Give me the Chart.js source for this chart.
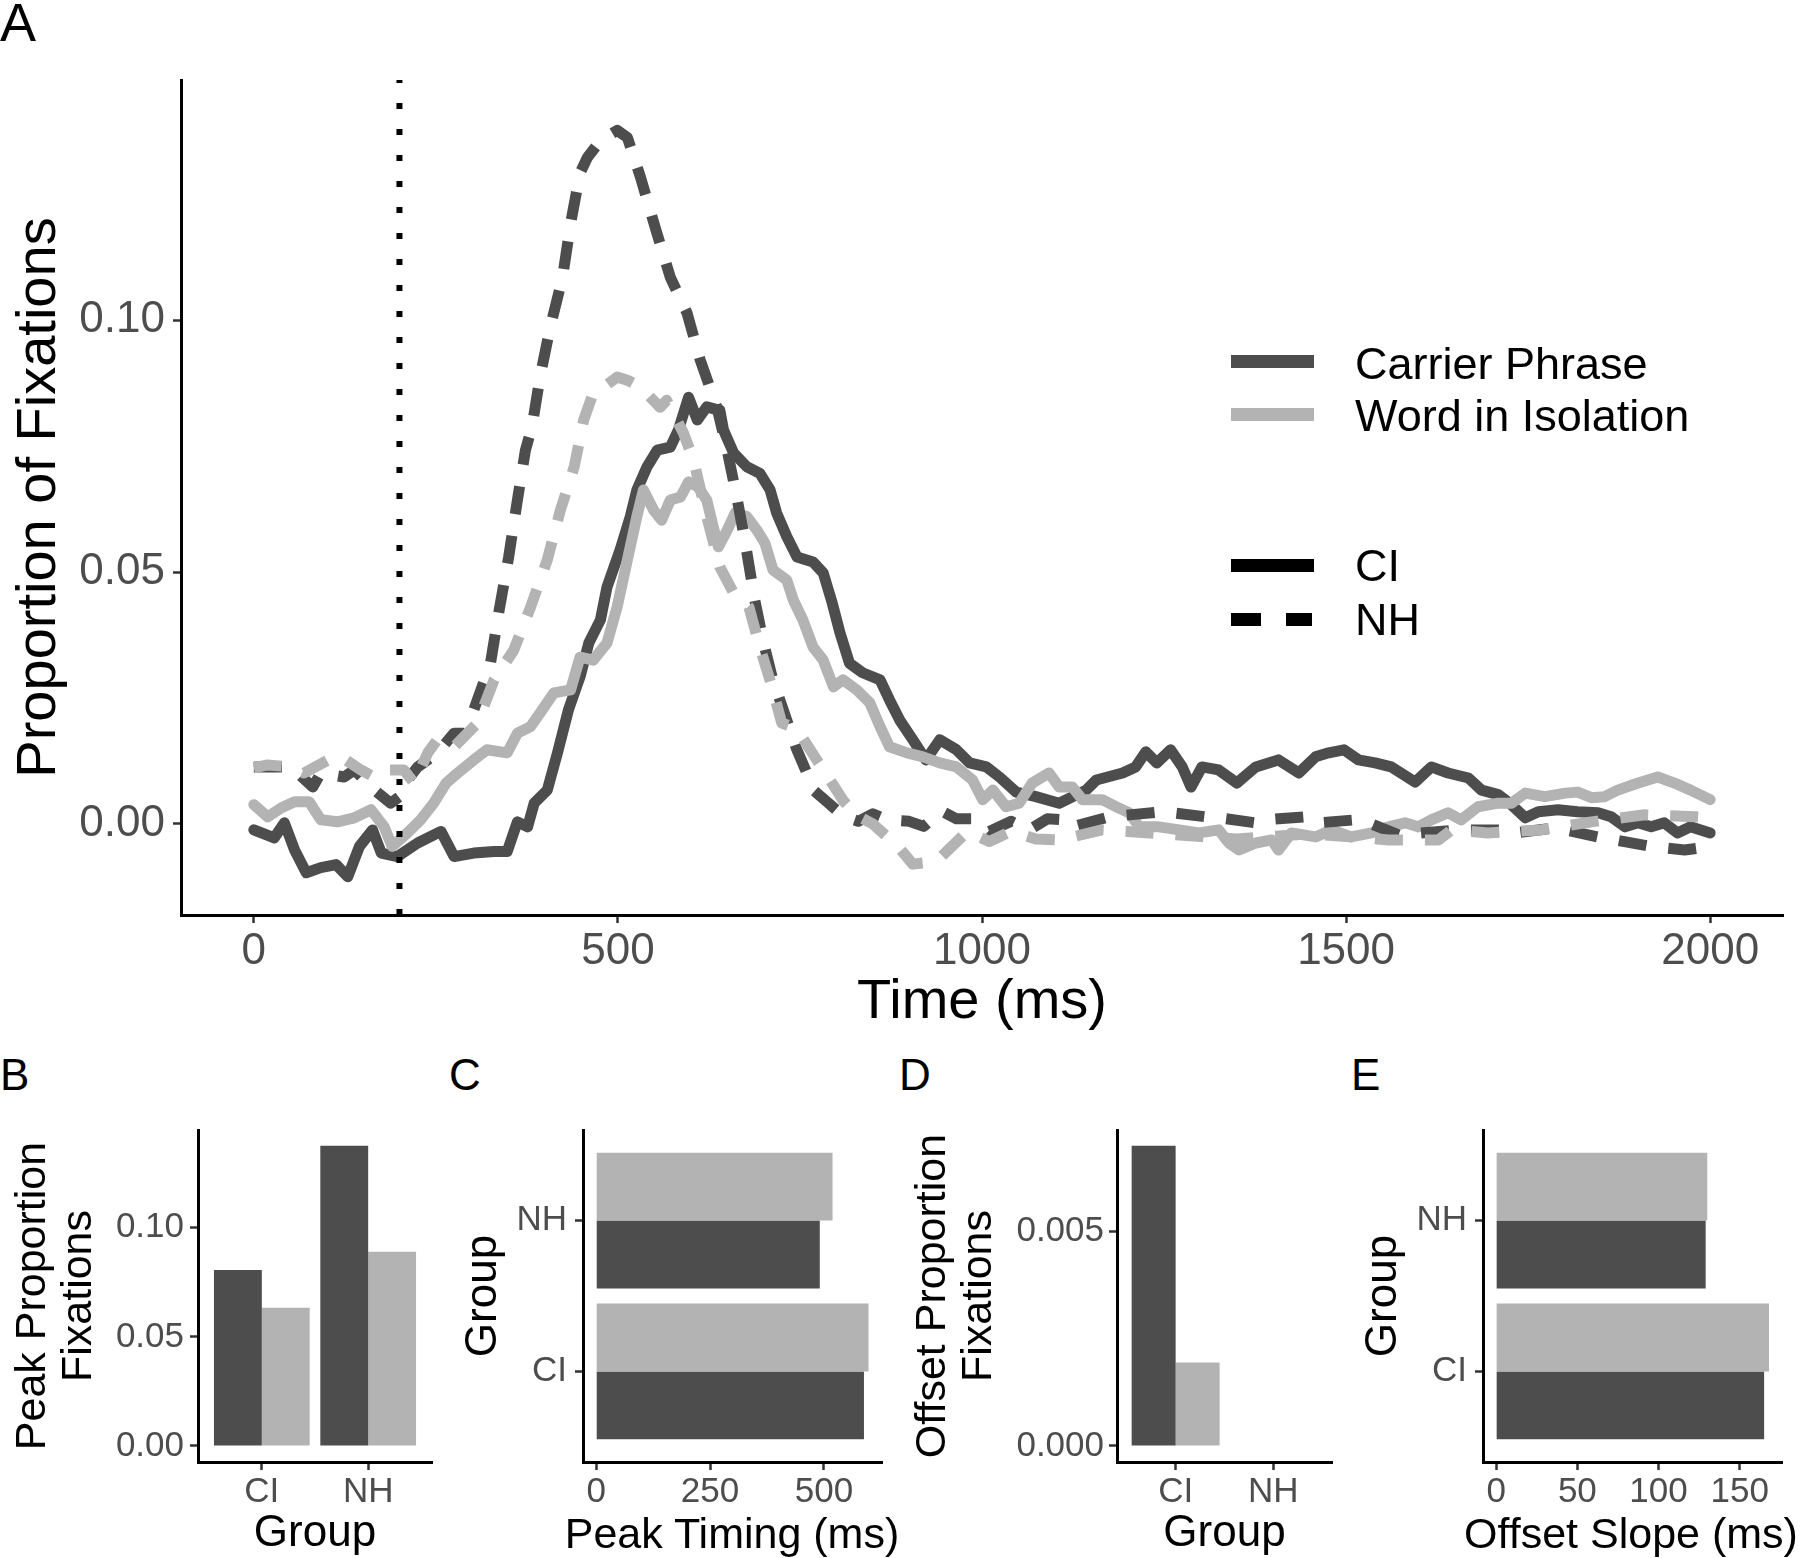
<!DOCTYPE html>
<html>
<head>
<meta charset="utf-8">
<script src="https://cdn.jsdelivr.net/npm/chart.js@4.4.1/dist/chart.umd.min.js"></script>
<style>
  body { margin: 0; background: #fff; }
  #page { position: relative; width: 1800px; height: 1558px; overflow: hidden; font-family: "Liberation Sans", Arial, sans-serif; }
  .box { position: absolute; }
  .tag { position: absolute; color: #000; white-space: nowrap; }
  .swatch { position: absolute; height: 13px; }
  .keytext { position: absolute; font-size: 45px; line-height: 45px; color: #000; white-space: nowrap; }
  .axtitle { position: absolute; width: 600px; text-align: center; font-size: 43px; line-height: 43px; color: #000; white-space: nowrap; }
</style>
</head>
<body>
<div id="page">
  <div class="box" style="left:0;top:0;width:1800px;height:1040px"><canvas id="panelA" width="1800" height="1040"></canvas></div>
  <div class="box" style="left:0;top:1100px;width:450px;height:458px"><canvas id="panelB" width="450" height="458"></canvas></div>
  <div class="box" style="left:450px;top:1100px;width:450px;height:458px"><canvas id="panelC" width="450" height="458"></canvas></div>
  <div class="box" style="left:900px;top:1100px;width:450px;height:458px"><canvas id="panelD" width="450" height="458"></canvas></div>
  <div class="box" style="left:1350px;top:1100px;width:450px;height:458px"><canvas id="panelE" width="450" height="458"></canvas></div>

  <div class="tag" style="left:0;top:-5px;font-size:54px;line-height:54px">A</div>
  <div class="tag" style="left:0;top:1053px;font-size:44px;line-height:44px">B</div>
  <div class="tag" style="left:449px;top:1053px;font-size:44px;line-height:44px">C</div>
  <div class="tag" style="left:899px;top:1053px;font-size:44px;line-height:44px">D</div>
  <div class="tag" style="left:1351px;top:1053px;font-size:44px;line-height:44px">E</div>

  <!-- x titles of C and E are wider than their axes, so they sit outside the canvas -->
  <div class="axtitle" style="left:432px;top:1512px">Peak Timing (ms)</div>
  <div class="axtitle" style="left:1331px;top:1512px">Offset Slope (ms)</div>

  <!-- legend -->
  <div class="swatch" style="left:1231px;top:355px;width:83px;background:#4D4D4D"></div>
  <div class="keytext" style="left:1355px;top:341px">Carrier Phrase</div>
  <div class="swatch" style="left:1231px;top:408px;width:83px;background:#B3B3B3"></div>
  <div class="keytext" style="left:1355px;top:393px">Word in Isolation</div>
  <div class="swatch" style="left:1231px;top:559px;width:83px;background:#000"></div>
  <div class="keytext" style="left:1355px;top:543px">CI</div>
  <div class="swatch" style="left:1231px;top:613px;width:30px;background:#000"></div>
  <div class="swatch" style="left:1286px;top:613px;width:26px;background:#000"></div>
  <div class="keytext" style="left:1355px;top:597px">NH</div>
</div>

<script>
// ---- panel A: proportion of fixations over time ----
const cpCiTime = [0, 28, 42, 56, 72, 92, 113, 129, 145, 163, 175, 197, 225, 257, 275, 302, 330, 348, 362, 376,
  385, 403, 417, 432, 448, 460, 476, 485, 503, 517, 526, 540, 554, 572, 583, 597, 609, 622, 640, 645,
  659, 677, 695, 709, 718, 732, 746, 768, 782, 794, 805, 818, 836, 860, 873, 887, 905, 923, 942, 965,
  983, 1006, 1024, 1047, 1074, 1106, 1143, 1157, 1193, 1211, 1225, 1240, 1259, 1275, 1287, 1302, 1325, 1350, 1376, 1407,
  1435, 1458, 1476, 1497, 1517, 1540, 1562, 1595, 1617, 1640, 1668, 1686, 1709, 1727, 1746, 1764, 1791, 1818, 1846, 1864,
  1883, 1901, 1919, 1937, 1955, 1973, 2000];
const cpCiProp = [-0.0012, -0.0028, 0.0002, -0.0052, -0.0097, -0.0087, -0.0081, -0.0105, -0.0045, -0.0012,
  -0.0058, -0.0065, -0.0038, -0.0015, -0.0065, -0.0058, -0.0055, -0.0055, 0.0004, -0.0006,
  0.0041, 0.0067, 0.0141, 0.0226, 0.0292, 0.0359, 0.0405, 0.047, 0.0544, 0.061,
  0.0663, 0.0709, 0.0742, 0.0748, 0.0782, 0.0847, 0.0802, 0.0828, 0.0821, 0.0782,
  0.0736, 0.0709, 0.0696, 0.0663, 0.0617, 0.057, 0.053, 0.052, 0.0498, 0.044,
  0.0379, 0.0319, 0.03, 0.0286, 0.0246, 0.0206, 0.0167, 0.0127, 0.0167, 0.0147,
  0.0121, 0.0113, 0.0093, 0.0063, 0.0054, 0.0041, 0.0067, 0.0087, 0.0101, 0.0113,
  0.0143, 0.0121, 0.0147, 0.0113, 0.0073, 0.0113, 0.0107, 0.0081, 0.0113, 0.0127,
  0.0101, 0.0133, 0.0141, 0.0147, 0.0127, 0.0121, 0.0113, 0.0083, 0.0113, 0.0101,
  0.0091, 0.0067, 0.0058, 0.0038, 0.0012, 0.0024, 0.0028, 0.0024, 0.0022, 0.0014,
  -0.0006, 0.0002, -0.0006, 0.0002, -0.0018, -0.0006, -0.0018];

const wiCiTime = [0, 19, 38, 56, 76, 92, 115, 138, 161, 179, 190, 211, 229, 247, 264, 280, 302, 320, 348, 362,
  380, 393, 412, 435, 448, 466, 485, 499, 513, 526, 535, 549, 560, 572, 586, 597, 610, 622, 631, 638,
  650, 661, 677, 691, 702, 713, 732, 741, 754, 768, 782, 796, 809, 828, 846, 860, 873, 897, 919, 942,
  965, 987, 1001, 1015, 1033, 1051, 1069, 1092, 1106, 1124, 1138, 1165, 1184, 1202, 1216, 1243, 1271, 1298, 1325, 1339,
  1353, 1376, 1398, 1407, 1425, 1458, 1480, 1507, 1535, 1558, 1581, 1599, 1617, 1640, 1658, 1681, 1709, 1727, 1746, 1773,
  1801, 1818, 1837, 1855, 1873, 1901, 1928, 1951, 1973, 2000];
const wiCiProp = [0.0038, 0.0014, 0.0032, 0.0044, 0.0044, 0.0008, 0.0004, 0.0012, 0.0028, -0.0006,
  -0.0045, -0.0018, 0.0008, 0.0041, 0.0081, 0.0101, 0.0127, 0.0147, 0.0141, 0.018,
  0.0193, 0.022, 0.026, 0.0266, 0.0331, 0.0325, 0.0359, 0.0431, 0.0524, 0.061,
  0.0663, 0.0623, 0.0603, 0.0643, 0.0649, 0.0679, 0.0669, 0.0643, 0.0589, 0.055,
  0.0583, 0.0617, 0.061, 0.0583, 0.0557, 0.0504, 0.0484, 0.0444, 0.0405, 0.0351,
  0.0325, 0.0272, 0.0286, 0.0266, 0.024, 0.0193, 0.0153, 0.0141, 0.0133, 0.0121,
  0.0113, 0.0087, 0.0048, 0.0067, 0.0034, 0.0041, 0.0081, 0.0101, 0.0073, 0.0073,
  0.0048, 0.0048, 0.0034, 0.0022, -0.0006, -0.0006, -0.0012, -0.0018, -0.0012, -0.0038,
  -0.0052, -0.0038, -0.0032, -0.0052, -0.0018, -0.0026, -0.0012, -0.0026, -0.0018, -0.0006,
  0.0002, -0.0006, 0.0008, 0.0022, 0.0008, 0.0034, 0.0041, 0.0041, 0.0061, 0.0054,
  0.0061, 0.0063, 0.0052, 0.0054, 0.0067, 0.0081, 0.0093, 0.0081, 0.0067, 0.0048];

const cpNhTime = [0, 28, 47, 60, 81, 92, 124, 138, 166, 188, 200, 211, 225, 252, 275, 289, 302, 325, 337, 350,
  362, 373, 382, 393, 407, 424, 435, 448, 458, 476, 499, 513, 531, 551, 572, 595, 613, 636, 650, 664,
  675, 688, 700, 712, 725, 745, 770, 790, 810, 830, 850, 870, 900, 920, 945, 965, 990, 1010, 1040, 1065,
  1090, 1115, 1124, 1175, 1247, 1261, 1307, 1325, 1376, 1390, 1444, 1462, 1513, 1531, 1572, 1654, 1719, 1732, 1787, 1846,
  1919, 1965, 2000];
const cpNhProp = [0.0113, 0.0113, 0.0113, 0.0101, 0.0073, 0.0101, 0.0093, 0.0107, 0.0067, 0.0041,
  0.0054, 0.0087, 0.0113, 0.0141, 0.018, 0.018, 0.0226, 0.0319, 0.0425, 0.053,
  0.0643, 0.0742, 0.0788, 0.0887, 0.0986, 0.1085, 0.1192, 0.1292, 0.1323, 0.1357,
  0.1377, 0.1363, 0.1284, 0.1185, 0.1085, 0.1014, 0.0921, 0.0827, 0.0742, 0.0643,
  0.0557, 0.0444, 0.036, 0.029, 0.0235, 0.015, 0.0065, 0.004, 0.0015, 0.0005,
  0.002, 0.0008, 0.0005, -0.0005, 0.0025, 0.001, 0.001, -0.0015, 0.0005, -0.0012,
  0.001, 0.0008, -0.0006, 0.0014, 0.0024, 0.0022, 0.0014, 0.0012, 0.0002, 0.0008,
  0.0014, 0.0002, 0.0008, 0.0002, -0.0022, -0.0012, -0.0012, -0.0018, -0.0008, -0.0026,
  -0.0045, -0.0052, -0.0045];

const wiNhTime = [0, 19, 51, 69, 110, 120, 147, 165, 179, 206, 220, 239, 252, 275, 307, 330, 357, 380, 403, 421,
  440, 453, 466, 480, 499, 513, 531, 558, 567, 590, 604, 622, 640, 659, 680, 695, 710, 725, 745, 773,
  790, 810, 830, 850, 873, 885, 905, 937, 955, 980, 1010, 1040, 1074, 1106, 1124, 1165, 1200, 1250, 1300, 1350,
  1400, 1450, 1500, 1558, 1627, 1645, 1695, 1768, 1837, 1910, 1979, 2000];
const wiNhProp = [0.0111, 0.0117, 0.0113, 0.0101, 0.0133, 0.0133, 0.0107, 0.0093, 0.0107, 0.0107,
  0.0081, 0.0141, 0.0167, 0.0153, 0.02, 0.0286, 0.0345, 0.043, 0.0524, 0.0623,
  0.0709, 0.0802, 0.0855, 0.0867, 0.0887, 0.0881, 0.0867, 0.0827, 0.0841, 0.0776,
  0.0722, 0.061, 0.051, 0.0458, 0.043, 0.035, 0.028, 0.02, 0.019, 0.0127,
  0.009, 0.0045, 0.0015, 0.0, -0.003, -0.0045, -0.008, -0.0075, -0.005, -0.0015,
  -0.0035, -0.0015, -0.003, -0.0032, -0.0026, -0.0012, -0.0015, -0.002, -0.0025, -0.003,
  -0.0025, -0.002, -0.0025, -0.0032, -0.0032, -0.0012, -0.0018, -0.0012, 0.0004, 0.0018,
  0.0014, 0.0012];

const timeTicks = [0, 500, 1000, 1500, 2000];
const propTicks = [0, 0.05, 0.10];
const onsetTime = 200;

// ---- panels B-E: summary bars per group ----
const groups = ['CI', 'NH'];
const peakPropCarrier = [0.0806, 0.1376];
const peakPropWord = [0.0633, 0.0890];
const peakPropTicks = [0, 0.05, 0.10];
const peakTimeCarrier = [588, 491];
const peakTimeWord = [598, 519];
const peakTimeTicks = [0, 250, 500];
const offsetPropCarrier = [0.00701, null];
const offsetPropWord = [0.00195, null];
const offsetPropTicks = [0, 0.005];
const offsetSlopeCarrier = [165, 129];
const offsetSlopeWord = [168, 130];
const offsetSlopeTicks = [0, 50, 100, 150];

const DARK = '#4D4D4D';
const LIGHT = '#B3B3B3';
const FONT = '"Liberation Sans", Arial, Helvetica, sans-serif';
Chart.defaults.font.family = FONT;
Chart.defaults.color = '#4D4D4D';

function toPoints(times, values) {
  return times.map((t, i) => ({ x: t, y: values[i] }));
}

function setTicks(values) {
  return (scale) => { scale.ticks = values.map(v => ({ value: v })); };
}

// shared look of a ggplot classic axis
function axis(opts) {
  return {
    type: 'linear',
    position: opts.position,
    min: opts.min,
    max: opts.max,
    offset: false,
    border: { display: true, color: '#000', width: 3 },
    grid: { display: true, drawOnChartArea: false, drawTicks: true, tickLength: 8, tickWidth: 2.5, tickColor: '#333333', offset: false },
    ticks: {
      color: '#4D4D4D',
      font: { size: opts.tickSize, lineHeight: 1.2 },
      padding: opts.tickPad,
      autoSkip: false, maxRotation: 0, minRotation: 0,
      callback: opts.format
    },
    title: {
      display: opts.title !== null, text: opts.title, color: '#000',
      font: { size: opts.titleSize, lineHeight: opts.titleLine || 1.2 },
      padding: opts.titlePad
    },
    afterBuildTicks: setTicks(opts.ticks),
    afterFit: (scale) => {
      if (opts.position === 'left') scale.width = opts.size; else scale.height = opts.size;
    }
  };
}

const baseOpts = {
  responsive: false,
  animation: false,
  devicePixelRatio: 1,
  plugins: { legend: { display: false }, tooltip: { enabled: false } }
};

// panel A
const lineW = 11;
new Chart(document.getElementById('panelA'), {
  type: 'line',
  data: {
    datasets: [
      { label: 'onset', data: [{ x: onsetTime, y: -0.0181 }, { x: onsetTime, y: 0.1477 }], borderColor: '#000', borderWidth: 6, borderDash: [6, 20], borderCapStyle: 'butt', pointRadius: 0, order: 0 },
      { label: 'Word in Isolation NH', data: toPoints(wiNhTime, wiNhProp), borderColor: LIGHT, borderWidth: lineW, borderDash: [28, 22], borderCapStyle: 'butt', borderJoinStyle: 'round', pointRadius: 0, order: 1 },
      { label: 'Carrier Phrase NH', data: toPoints(cpNhTime, cpNhProp), borderColor: DARK, borderWidth: lineW, borderDash: [28, 22], borderCapStyle: 'butt', borderJoinStyle: 'round', pointRadius: 0, order: 2 },
      { label: 'Word in Isolation CI', data: toPoints(wiCiTime, wiCiProp), borderColor: LIGHT, borderWidth: lineW, borderCapStyle: 'round', borderJoinStyle: 'round', pointRadius: 0, order: 3 },
      { label: 'Carrier Phrase CI', data: toPoints(cpCiTime, cpCiProp), borderColor: DARK, borderWidth: lineW, borderCapStyle: 'round', borderJoinStyle: 'round', pointRadius: 0, order: 4 }
    ]
  },
  options: Object.assign({}, baseOpts, {
    layout: { padding: { left: 0, top: 80, right: 17, bottom: 0 } },
    scales: {
      x: axis({ position: 'bottom', min: -100, max: 2100, ticks: timeTicks, size: 125, tickSize: 44, tickPad: 2,
        format: v => String(v), title: 'Time (ms)', titleSize: 56, titlePad: { top: 0, bottom: 4 } }),
      y: axis({ position: 'left', min: -0.0181, max: 0.1477, ticks: propTicks, size: 181, tickSize: 44, tickPad: 8,
        format: v => v.toFixed(2), title: 'Proportion of Fixations', titleSize: 56, titlePad: { top: 6, bottom: 0 } })
    }
  })
});

// grouped bars on a numeric group axis (1 = CI, 2 = NH), like ggplot's dodge
function groupBars(carrier, word) {
  return [
    { label: 'Carrier Phrase', values: carrier, color: DARK },
    { label: 'Word in Isolation', values: word, color: LIGHT }
  ];
}

function barPanel(id, cfg) {
  const horizontal = cfg.horizontal;
  let sets = groupBars(cfg.carrier, cfg.word);
  if (horizontal) sets = sets.slice().reverse(); // light bar sits above dark bar
  const datasets = sets.map(s => ({
    label: s.label,
    data: s.values.map((v, i) => horizontal ? { y: i + 1, x: v } : { x: i + 1, y: v }),
    backgroundColor: s.color,
    borderWidth: 0,
    categoryPercentage: 0.9,
    barPercentage: 1
  }));
  const groupAxis = axis({ position: horizontal ? 'left' : 'bottom', min: 0.4, max: 2.6, ticks: [1, 2],
    size: horizontal ? cfg.leftSize : 96, tickSize: 35, tickPad: horizontal ? 8 : 1,
    format: v => groups[v - 1], title: 'Group', titleSize: 44,
    titlePad: horizontal ? { top: 7, bottom: 0 } : { top: 0, bottom: -2 } });
  const valueAxis = axis({ position: horizontal ? 'bottom' : 'left', min: cfg.min, max: cfg.max, ticks: cfg.ticks,
    size: horizontal ? 96 : cfg.leftSize, tickSize: 35, tickPad: horizontal ? 1 : cfg.valuePad,
    format: cfg.format, title: horizontal ? null : cfg.title, titleSize: 43, titleLine: 1.07,
    titlePad: { top: 10, bottom: 0 } });
  new Chart(document.getElementById(id), {
    type: 'bar',
    data: { datasets },
    options: Object.assign({}, baseOpts, {
      indexAxis: horizontal ? 'y' : 'x',
      layout: { padding: { left: 0, top: 30, right: 18, bottom: 0 } },
      scales: horizontal ? { x: valueAxis, y: groupAxis } : { x: groupAxis, y: valueAxis }
    })
  });
}

barPanel('panelB', { carrier: peakPropCarrier, word: peakPropWord, min: -0.00734, max: 0.1448, ticks: peakPropTicks,
  format: v => v.toFixed(2), title: ['Peak Proportion', 'Fixations'], leftSize: 198, valuePad: 6 });
barPanel('panelC', { horizontal: true, carrier: peakTimeCarrier, word: peakTimeWord, min: -29, max: 627.6, ticks: peakTimeTicks,
  format: v => String(v), leftSize: 133 });
barPanel('panelD', { carrier: offsetPropCarrier, word: offsetPropWord, min: -0.000374, max: 0.007376, ticks: offsetPropTicks,
  format: v => v.toFixed(3), title: ['Offset Proportion', 'Fixations'], leftSize: 217, valuePad: 5 });
barPanel('panelE', { horizontal: true, carrier: offsetSlopeCarrier, word: offsetSlopeWord, min: -8.1, max: 176, ticks: offsetSlopeTicks,
  format: v => String(v), leftSize: 133 });
</script>
</body>
</html>
